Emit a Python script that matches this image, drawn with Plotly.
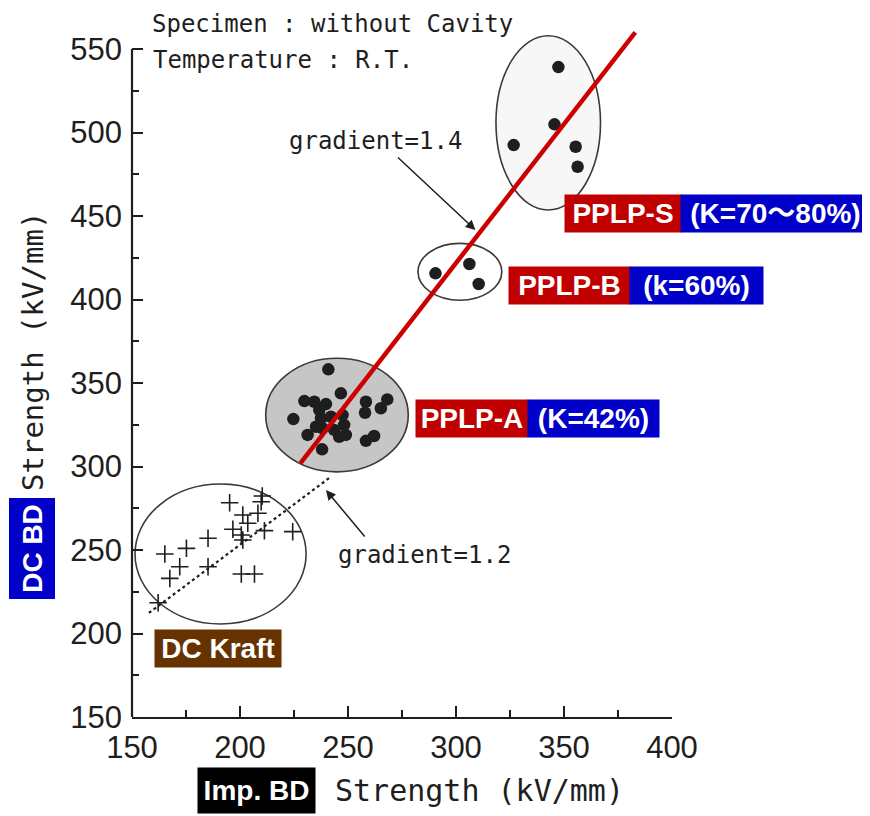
import plotly.graph_objects as go

# ---------------- data ----------------
kraft_x = [195.2, 210.3, 209.8, 201.3, 208.3, 203.6, 196.7, 211.3, 224.4, 200.6,
           201.3, 185.2, 175.2, 165.2, 172.1, 185.2, 167.5, 200.6, 206.7, 162.1]
kraft_y = [278.3, 282.3, 278.9, 271.0, 272.0, 266.0, 262.4, 261.6, 261.0, 259.0,
           256.0, 257.0, 251.0, 247.6, 240.0, 240.0, 233.0, 235.6, 235.6, 218.4]

pplpa_x = [240.9, 224.7, 229.8, 234.4, 239.8, 246.7, 258.3, 257.9, 268.2, 265.2,
           237.5, 242.1, 247.5, 248.2, 238.2, 243.6, 245.9, 249.0, 231.3, 235.2,
           258.3, 262.1, 238.0, 236.7]
pplpa_y = [358.2, 328.4, 339.2, 338.8, 337.4, 343.8, 338.8, 332.2, 340.2, 334.9,
           328.9, 329.8, 330.8, 324.9, 322.9, 321.9, 317.8, 318.9, 318.9, 323.8,
           315.4, 318.3, 310.3, 333.8]

pplpb_x = [290.5, 306.2, 310.5]
pplpb_y = [415.7, 421.3, 409.3]

pplps_x = [347.4, 345.6, 326.7, 355.4, 356.3]
pplps_y = [539.2, 504.9, 492.5, 491.5, 479.5]

# fitted lines (as drawn)
fit14_x = [228.0, 383.0]
fit14_y = [302.0, 560.0]
fit12_x = [157.8, 242.1]
fit12_y = [212.3, 293.9]

# group ellipses: center x, center y, half-width x, half-height y
kraft_ell = [191.0, 247.6, 39.6, 41.9]
pplpa_ell = [244.9, 330.8, 33.0, 34.0]
pplpb_ell = [301.8, 416.6, 19.4, 17.0]
pplps_ell = [342.7, 505.8, 24.2, 52.2]

x_ticks = [150, 200, 250, 300, 350, 400]
y_ticks = [150, 200, 250, 300, 350, 400, 450, 500, 550]

# ---------------- layout helpers ----------------
# page body has an 8px margin; positions below are window pixels
PAGE = 8
L, T, W, H = 132, 29, 540, 688
FW, FH = 870, 816


def px(x):
    return (x - L) / W


def py(y):
    return (T + H - y) / H


INK = "#1e1e1e"
MONO = "DejaVu Sans Mono, Liberation Mono, monospace"
SANS = "Liberation Sans, Arial, Noto Sans CJK JP, sans-serif"

fig = go.Figure()

# dotted gradient=1.2 line
fig.add_trace(go.Scatter(x=fit12_x, y=fit12_y, mode="lines",
                         line=dict(color=INK, width=2.2, dash="dot"),
                         hoverinfo="skip", showlegend=False))

# kraft crosses
fig.add_trace(go.Scatter(x=kraft_x, y=kraft_y, mode="markers",
                         marker=dict(symbol="cross-thin", size=12.5,
                                     line=dict(color=INK, width=1.6)),
                         showlegend=False))

for xs, ys in [(pplpa_x, pplpa_y), (pplpb_x, pplpb_y), (pplps_x, pplps_y)]:
    fig.add_trace(go.Scatter(x=xs, y=ys, mode="markers",
                             marker=dict(symbol="circle", size=12.5, color=INK,
                                         line=dict(width=0)),
                             showlegend=False))

# red gradient=1.4 line
fig.add_trace(go.Scatter(x=fit14_x, y=fit14_y, mode="lines",
                         line=dict(color="#CC0000", width=4.5),
                         hoverinfo="skip", showlegend=False))

shapes = []
for ell, fill in [(kraft_ell, "rgba(0,0,0,0)"), (pplpa_ell, "#c6c6c6"),
                  (pplpb_ell, "rgba(0,0,0,0)"), (pplps_ell, "#f7f7f7")]:
    cx, cy, hx, hy = ell
    shapes.append(dict(type="circle", xref="x", yref="y",
                       x0=cx - hx, x1=cx + hx, y0=cy - hy, y1=cy + hy,
                       line=dict(color="#3a3a3a", width=1.6),
                       fillcolor=fill, layer="below"))
# y axis line (stops at 550)
shapes.append(dict(type="line", xref="paper", yref="y", x0=0, x1=0,
                   y0=150, y1=550, line=dict(color=INK, width=2.2)))

annotations = []


def text_ann(s, x, y, size, xanchor="left", angle=0, family=MONO, color=INK):
    annotations.append(dict(text=s, xref="paper", yref="paper", x=px(x), y=py(y),
                            xanchor=xanchor, yanchor="middle", showarrow=False,
                            textangle=angle,
                            font=dict(family=family, size=size, color=color)))


text_ann("Specimen : without Cavity", 150, 24, 24)
text_ann("Temperature : R.T.", 151, 60, 24)
text_ann("gradient=1.4", 287, 141, 24)
text_ann("gradient=1.2", 336, 555, 24)
text_ann("Strength (kV/mm)", 333, 790, 30)
text_ann("Strength (kV/mm)", 33, 352, 29, xanchor="center", angle=-90)


def box_ann(s, x0, x1, y0, y1, bg, angle=0):
    w = x1 - x0
    h = y1 - y0
    if angle:
        w, h = h, w
    annotations.append(dict(text="<b>" + s + "</b>", xref="paper", yref="paper",
                            x=px((x0 + x1) / 2), y=py((y0 + y1) / 2),
                            xanchor="center", yanchor="middle", showarrow=False,
                            width=w, height=h, bgcolor=bg, borderpad=0,
                            textangle=angle, align="center", valign="middle",
                            font=dict(family=SANS, size=28, color="white")))


RED = "#C00000"
BLUE = "#0000C8"
box_ann("PPLP-S", 565, 681, 195, 232, RED)
box_ann("(K=70～80%)", 681, 870, 195, 232, BLUE)
box_ann("PPLP-B", 509, 630, 267, 304, RED)
box_ann("(k=60%)", 630, 763, 267, 304, BLUE)
box_ann("PPLP-A", 416, 528, 400, 437, RED)
box_ann("(K=42%)", 528, 659, 400, 437, BLUE)
box_ann("DC Kraft", 155, 281, 630, 667, "#663300")
box_ann("DC BD", 9, 54, 499, 599, BLUE, angle=-90)
box_ann("Imp. BD", 198, 315, 768, 813, "#000000")

# arrows
annotations.append(dict(x=309.0, y=441.6, xref="x", yref="y", ax=-79, ay=-74,
                        text="", showarrow=True, arrowhead=2, arrowsize=1.3,
                        arrowwidth=1.5, arrowcolor=INK))
annotations.append(dict(x=239.8, y=285.9, xref="x", yref="y", ax=40, ay=48,
                        text="", showarrow=True, arrowhead=2, arrowsize=1.3,
                        arrowwidth=1.5, arrowcolor=INK))

fig.update_layout(
    width=FW, height=FH,
    margin=dict(l=L - PAGE, r=FW - L - W + PAGE, t=T - PAGE, b=FH - T - H + PAGE,
                autoexpand=False),
    paper_bgcolor="white", plot_bgcolor="white",
    shapes=shapes, annotations=annotations,
    xaxis=dict(range=[150, 400], showgrid=False, zeroline=False,
               showline=True, linecolor=INK, linewidth=2.2,
               tickmode="array", tickvals=x_ticks,
               ticktext=[str(v) for v in x_ticks],
               ticks="inside", ticklen=11, tickwidth=2, tickcolor=INK,
               minor=dict(ticks="inside", ticklen=7, tickwidth=2,
                          tickcolor=INK, tickvals=[175, 225, 275, 325, 375]),
               ticklabelstandoff=2,
               tickfont=dict(family=SANS, size=31, color=INK)),
    yaxis=dict(range=[150, 562], showgrid=False, zeroline=False,
               showline=False,
               tickmode="array", tickvals=y_ticks,
               ticktext=[str(v) for v in y_ticks],
               ticks="inside", ticklen=11, tickwidth=2, tickcolor=INK,
               minor=dict(ticks="inside", ticklen=7, tickwidth=2,
                          tickcolor=INK,
                          tickvals=[175, 225, 275, 325, 375, 425, 475, 525]),
               ticklabelstandoff=9,
               tickfont=dict(family=SANS, size=31, color=INK)),
)

fig.write_html("out.html")
